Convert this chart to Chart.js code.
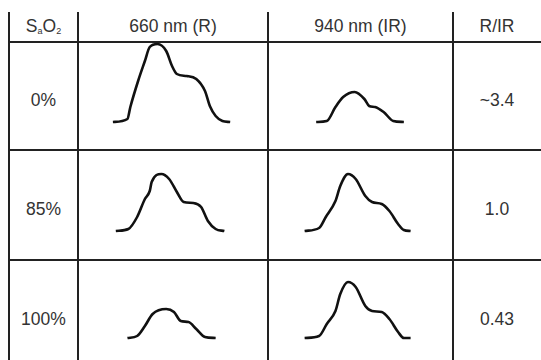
<!DOCTYPE html>
<html>
<head>
  <meta charset="UTF-8" />
  <title>SaO2 pulse waveforms</title>
  <script src="https://cdn.jsdelivr.net/npm/chart.js"></script>
  <style>
    html, body { margin: 0; padding: 0; background: #fff; }
    body { width: 541px; height: 360px; position: relative; overflow: hidden;
           font-family: "Liberation Sans", Arial, sans-serif; color: #333; }
    .line { position: absolute; background: #222; }
    .cell { position: absolute; display: flex; align-items: center; justify-content: center;
            font-size: 17.5px; }
    .cell sub { font-size: 9px; vertical-align: baseline; position: relative; top: 4px; }
    canvas { position: absolute; }
  </style>
</head>
<body>
  <script>
    // table text
    const headers = ['S<sub>a</sub>O<sub>2</sub>', '660 nm (R)', '940 nm (IR)', 'R/IR'];
    const saturation = ['0%', '85%', '100%'];
    const ratio = ['~3.4', '1.0', '0.43'];

    // pulse waveforms, time (arbitrary units) and amplitude above baseline
    const red0_t = [36, 51, 54, 62, 69, 74, 82, 91, 97, 102, 112, 122, 131, 136, 142, 149, 157];
    const red0_a = [0, 3, 15, 41, 61, 75, 78, 71, 56, 48, 46, 43, 31, 16, 6, 1, 0];
    const ir0_t = [50, 61, 70, 78, 90, 100, 105, 111, 120, 130, 141];
    const ir0_a = [0, 1, 15, 25, 30, 23, 16, 15, 10, 1, 0];

    const red85_t = [39, 52, 61, 69, 74, 76, 86, 94, 102, 109, 119, 127, 134, 142, 151];
    const red85_a = [0, 2, 14, 32, 40, 49, 57, 52, 39, 29, 28, 24, 10, 2, 0];
    const ir85_t = [38, 53, 60, 70, 75, 83, 91, 101, 108, 118, 126, 135, 141, 148];
    const ir85_a = [0, 3, 14, 30, 45, 57, 52, 35, 29, 27, 20, 7, 1, 0];

    const red100_t = [51, 61, 69, 77, 91, 99, 106, 114, 122, 131, 142];
    const red100_a = [0, 2, 12, 24, 29, 26, 17, 16, 9, 1, 0];
    const ir100_t = [38, 53, 61, 70, 75, 83, 91, 101, 108, 118, 126, 135, 141, 148];
    const ir100_a = [0, 2, 14, 27, 44, 56, 51, 32, 27, 26, 19, 6, 0, 0];

    const waves = [
      [[red0_t, red0_a], [ir0_t, ir0_a]],
      [[red85_t, red85_a], [ir85_t, ir85_a]],
      [[red100_t, red100_a], [ir100_t, ir100_a]],
    ];

    // layout
    const colX = [9, 78, 268, 453, 541];
    const rowY = [12, 42, 150, 260, 370];
    const timeSpan = [196, 192];    // time units across the R and IR cells
    const baseGap = [28, 29, 32];   // baseline distance from row bottom

    function addLine(x, y, w, h) {
      const d = document.createElement('div');
      d.className = 'line';
      d.style.left = x + 'px'; d.style.top = y + 'px';
      d.style.width = w + 'px'; d.style.height = h + 'px';
      document.body.appendChild(d);
    }
    function addCell(html, x0, x1, y0, y1) {
      const d = document.createElement('div');
      d.className = 'cell';
      d.style.left = x0 + 'px'; d.style.top = y0 + 'px';
      d.style.width = (x1 - x0) + 'px'; d.style.height = (y1 - y0) + 'px';
      d.innerHTML = html;
      document.body.appendChild(d);
    }

    for (let i = 0; i < 4; i++) addLine(colX[i] - 1, rowY[0], 2, 360);
    for (let j = 1; j < 4; j++) addLine(colX[0] - 1, rowY[j] - 1, 541, 2);

    headers.forEach((h, i) => addCell(h, colX[i], colX[i + 1], rowY[0] - 1, rowY[1]));
    saturation.forEach((s, j) => addCell(s, colX[0], colX[1], rowY[j + 1] + 8, rowY[j + 2]));
    ratio.forEach((s, j) => addCell(s, colX[3], colX[4], rowY[j + 1] + 8, rowY[j + 2]));

    function waveChart(t, a, x0, x1, y0, y1, gap, span) {
      const cv = document.createElement('canvas');
      const w = x1 - x0, h = y1 - y0;
      cv.width = w; cv.height = h;
      cv.style.left = x0 + 'px'; cv.style.top = y0 + 'px';
      document.body.appendChild(cv);
      new Chart(cv.getContext('2d'), {
        type: 'line',
        data: {
          datasets: [{
            data: t.map((v, k) => ({ x: v, y: a[k] })),
            borderColor: '#111',
            borderWidth: 2.6,
            pointRadius: 0,
            cubicInterpolationMode: 'monotone',
            fill: false,
          }]
        },
        options: {
          responsive: false,
          animation: false,
          layout: { padding: 0 },
          plugins: { legend: { display: false }, tooltip: { enabled: false } },
          scales: {
            x: { type: 'linear', min: 0, max: span, display: false },
            y: { type: 'linear', min: -gap, max: h - gap, display: false },
          },
        }
      });
    }

    waves.forEach((row, j) => {
      row.forEach((wv, c) => {
        waveChart(wv[0], wv[1], colX[c + 1], colX[c + 2], rowY[j + 1], rowY[j + 2],
                  baseGap[j], timeSpan[c]);
      });
    });
  </script>
</body>
</html>
